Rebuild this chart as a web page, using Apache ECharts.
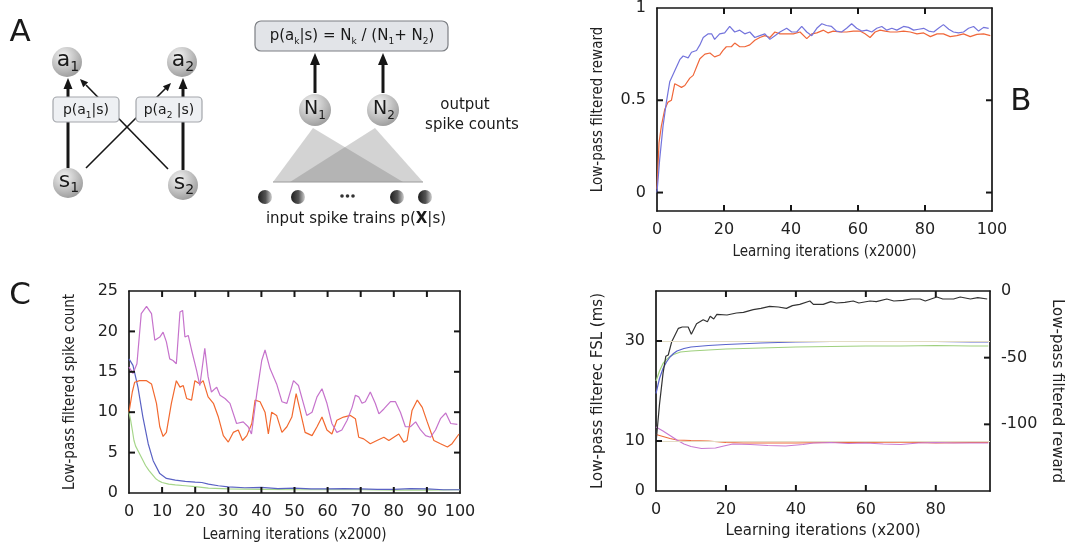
<!DOCTYPE html>
<html>
<head>
<meta charset="utf-8">
<script src="https://cdn.jsdelivr.net/npm/echarts@6/dist/echarts.min.js"></script>
<style>
    html, body { margin: 0; padding: 0; background: #fff; }
    #main { width: 1068px; height: 552px; }
</style>
</head>
<body>
<div id="main"></div>
<script>
    // Panel B: low-pass filtered reward vs learning iterations (x2000)
    var rewardBlue = [
        [0, 0], [0.8, 0.18], [1.8, 0.36], [2.8, 0.49], [3.8, 0.6], [5.3, 0.66], [6.8, 0.72], [7.8, 0.74],
        [9.3, 0.73], [10.3, 0.76], [11.8, 0.77], [12.8, 0.8], [13.8, 0.84], [15.3, 0.86], [16.3, 0.86],
        [17.2, 0.83], [18.7, 0.86], [20.2, 0.865], [21.7, 0.9], [23.2, 0.87], [24.7, 0.88], [26.2, 0.86],
        [27.7, 0.87], [29.2, 0.84], [30.7, 0.85], [32.2, 0.86], [33.7, 0.83], [35.2, 0.85], [36.7, 0.87],
        [38.7, 0.89], [40.2, 0.87], [41.7, 0.87], [43.2, 0.9], [44.7, 0.87], [46.2, 0.85], [47.7, 0.89],
        [49.2, 0.915], [50.6, 0.905], [52.1, 0.9], [53.6, 0.875], [55.1, 0.87], [56.6, 0.89], [58.1, 0.915],
        [59.6, 0.89], [61.1, 0.875], [62.6, 0.88], [64.1, 0.87], [65.6, 0.89], [67.1, 0.9], [68.6, 0.88],
        [70.1, 0.89], [71.6, 0.88], [73.6, 0.9], [75.1, 0.895], [76.6, 0.88], [78.1, 0.885], [79.6, 0.89],
        [81.1, 0.875], [82.6, 0.87], [84, 0.89], [85.5, 0.91], [87.1, 0.885], [88.5, 0.87], [90, 0.865],
        [91.5, 0.87], [93, 0.89], [94.5, 0.9], [96, 0.875], [97.5, 0.895], [99, 0.89]
    ];
    var rewardOrange = [
        [0, 0.02], [0.6, 0.27], [1.3, 0.36], [2.3, 0.45], [3.3, 0.49], [4.3, 0.5], [5.3, 0.59], [6.3, 0.58],
        [7.3, 0.57], [8.3, 0.58], [9.8, 0.62], [10.8, 0.635], [11.8, 0.68], [12.8, 0.725], [14.3, 0.75],
        [15.8, 0.756], [17.2, 0.735], [18.7, 0.745], [19.7, 0.77], [20.7, 0.79], [22.2, 0.79], [23.2, 0.81],
        [24.7, 0.79], [26.2, 0.79], [27.7, 0.8], [29.2, 0.825], [30.7, 0.84], [32.2, 0.85], [33.7, 0.84],
        [35.2, 0.87], [36.7, 0.86], [38.7, 0.86], [40.7, 0.86], [42.7, 0.87], [44.7, 0.834], [46.2, 0.86],
        [47.7, 0.865], [49.7, 0.88], [51.1, 0.865], [52.6, 0.875], [54.6, 0.87], [56.6, 0.87], [58.6, 0.875],
        [60.6, 0.875], [62.1, 0.86], [63.6, 0.84], [65.1, 0.87], [66.6, 0.88], [68.1, 0.875], [69.6, 0.87],
        [71.6, 0.87], [73.6, 0.875], [75.6, 0.87], [77.6, 0.86], [79.6, 0.865], [81.6, 0.845], [83.6, 0.86],
        [85.5, 0.86], [87.5, 0.845], [89.5, 0.85], [91.5, 0.86], [93.5, 0.845], [95.5, 0.857], [97.5, 0.86],
        [99.5, 0.85]
    ];

    // Panel C left: low-pass filtered spike count vs learning iterations (x2000)
    var spikePurple = [
        [0, 15.6], [1.2, 14.8], [2.4, 16], [3.7, 22.2], [5.3, 23.1], [6.8, 22.2], [7.8, 18.9], [9.3, 19.3],
        [10.3, 19.9], [11.3, 18.7], [12.3, 16.6], [13.3, 16.4], [14.3, 16], [15.4, 22.4], [16.2, 22.6],
        [16.9, 19.3], [17.9, 19.5], [18.9, 17.7], [20.4, 15.2], [21.4, 13.3], [22.9, 17.9], [23.9, 14.4],
        [24.9, 12.5], [26.5, 13.1], [27.5, 12.1], [29, 11.7], [30.5, 11.1], [32.5, 8.6], [34.5, 8.8],
        [36, 8.2], [37, 7.3], [38.6, 12.3], [40.1, 16.4], [41.1, 17.7], [42.6, 15.4], [44.6, 13.5],
        [46.2, 11.3], [47.7, 11.1], [49.7, 13.9], [51.2, 13.3], [52.7, 11.1], [53.7, 9.6], [55.3, 10],
        [56.8, 11.9], [58.3, 12.9], [59.8, 11.1], [61.3, 8.6], [62.8, 7.5], [64.3, 7.8], [65.9, 9],
        [67.4, 10.6], [68.4, 12.1], [69.4, 11.9], [70.4, 11.1], [71.4, 11.3], [72.9, 12.5], [74.4, 11.1],
        [75.5, 9.8], [77, 10.4], [79, 11.3], [80.5, 11.3], [82, 10], [83.5, 8.2], [85, 8.2], [86.6, 8.8],
        [88.1, 7.8], [89.6, 7.1], [91.1, 6.9], [92.6, 7.8], [94.1, 9.2], [95.7, 9.9], [97.2, 8.6], [99.2, 8.5]
    ];
    var spikeOrange = [
        [0, 10], [1, 12.5], [1.7, 13.7], [3.2, 13.9], [5.3, 13.9], [6.8, 13.5], [8.3, 11.1], [9.3, 8.2],
        [10.3, 7], [11.3, 7.5], [12.8, 11.1], [14.3, 13.9], [15.4, 13.1], [16.4, 13.3], [17.4, 11.7],
        [18.9, 11.5], [19.9, 13.9], [21.4, 13.5], [22.4, 13.9], [23.9, 11.9], [25.5, 11.1], [27, 9.4],
        [28.5, 7.1], [30, 6.3], [31.5, 7.5], [33, 7.8], [34.3, 6.5], [35.6, 7.1], [37.1, 8.6], [38.1, 11.5],
        [39.6, 11.3], [41.1, 10], [42.1, 7.3], [43.1, 10], [44.6, 9.6], [46.2, 7.5], [47.7, 8.2], [49.2, 9.4],
        [50.5, 12.3], [51.7, 10.2], [53.2, 7.5], [55.3, 7.1], [56.8, 8.2], [58.3, 9.4], [59.8, 7.8],
        [61.3, 7.3], [62.8, 9], [64.8, 9.4], [66.9, 9.6], [68.4, 9.2], [69.4, 6.9], [70.9, 6.7], [72.9, 6.1],
        [74.9, 6.5], [77, 6.9], [78.5, 6.5], [80, 6.9], [81.5, 7.3], [83, 6.3], [84, 6.5], [85.5, 10.2],
        [87.1, 11.5], [88.6, 10.6], [90.1, 8.8], [92.1, 6.5], [94.1, 6.1], [96.2, 5.7], [97.6, 6.1], [99.7, 7.3]
    ];
    var spikeBlue = [
        [0, 16.6], [1.2, 15.8], [2.7, 13.1], [4.2, 9.4], [5.8, 6.1], [7.3, 4], [9.3, 2.4], [11.3, 1.8],
        [14, 1.6], [17, 1.45], [20, 1.35], [22, 1.3], [24, 1.1], [27, 0.9], [30, 0.75], [35, 0.65], [40, 0.7],
        [45, 0.55], [50, 0.6], [55, 0.5], [60, 0.5], [65, 0.55], [70, 0.5], [75, 0.45], [80, 0.45],
        [85, 0.55], [90, 0.5], [95, 0.4], [100, 0.4]
    ];
    var spikeGreen = [
        [0, 10], [0.5, 9], [1, 7.8], [1.5, 6.5], [2, 5.8], [3, 5], [4, 4.2], [5, 3.4], [6, 2.8], [7, 2.3],
        [8, 1.8], [9, 1.5], [10, 1.3], [12, 1.1], [14, 1], [17, 0.9], [20, 0.8], [24, 0.6], [30, 0.5],
        [40, 0.45], [50, 0.4], [60, 0.4], [70, 0.4], [80, 0.35], [90, 0.35], [100, 0.4]
    ];

    // Panel C right: FSL (ms, left axis) and reward (right axis) vs learning iterations (x200)
    var fslBlue = [
        [0, 19.5], [1, 22.5], [2, 24.5], [3, 25.8], [4, 26.8], [5, 27.5], [6, 28], [8, 28.5], [10, 28.8],
        [15, 29.1], [20, 29.3], [30, 29.6], [40, 29.8], [50, 29.9], [60, 29.9], [70, 29.9], [80, 29.9],
        [90, 29.8], [95, 29.8]
    ];
    var fslGreen = [
        [0, 22], [1, 24], [2, 25.5], [3, 26.3], [4, 26.9], [5, 27.3], [7, 27.8], [10, 28], [15, 28.2],
        [20, 28.4], [30, 28.6], [40, 28.8], [50, 28.9], [60, 29], [70, 29], [80, 29.1], [90, 29], [95, 29]
    ];
    var fslOrange = [
        [0, 11.3], [2, 10.9], [4, 10.5], [6, 10.2], [10, 10.1], [15, 10], [20, 9.7], [25, 9.6], [30, 9.6],
        [40, 9.6], [50, 9.7], [60, 9.7], [70, 9.8], [80, 9.6], [90, 9.7], [95, 9.7]
    ];
    var fslPink = [
        [0, 12.8], [2, 12], [4, 11.1], [6, 10.2], [8, 9.4], [10, 8.9], [13, 8.5], [17, 8.6], [20, 9.1],
        [22, 9.4], [27, 9.3], [32, 9.1], [37, 9], [42, 9.3], [45, 9.6], [50, 9.7], [55, 9.5], [60, 9.6],
        [65, 9.4], [70, 9.3], [75, 9.6], [80, 9.7], [85, 9.6], [90, 9.6], [95, 9.6]
    ];
    var fslReward = [
        [0, -114], [1, -85], [2, -62], [2.8, -49], [3.5, -48], [4.5, -38], [6.4, -28], [7.5, -27], [9.2, -27],
        [10.1, -32.5], [11.6, -24.5], [13.5, -21.5], [14.7, -23], [15.5, -19], [16.5, -21], [17.4, -17.5],
        [20.3, -18], [23, -16.5], [25, -16], [27.8, -14], [30, -13], [32.5, -11.5], [35, -12], [37.3, -13],
        [39, -11], [41.1, -10], [44, -7.5], [45, -10], [47.8, -10], [50, -8], [51.6, -9], [54, -8.5],
        [56.4, -7.5], [58, -9], [61.2, -7.5], [63, -8], [66, -6], [68, -7.5], [70.7, -7], [73, -6],
        [75.5, -6], [77, -7.5], [80.3, -4.5], [82, -6], [85.1, -6], [87, -4.5], [89.9, -6], [92, -5], [94.7, -6]
    ];
    var fslGuides = [10, 30];

    // tick label values
    var labelsBx = [0, 20, 40, 60, 80, 100];
    var labelsBy = [0, 0.5, 1];
    var labelsCx = [0, 10, 20, 30, 40, 50, 60, 70, 80, 90, 100];
    var labelsCy = [0, 5, 10, 15, 20, 25];
    var labelsDx = [0, 20, 40, 60, 80];
    var labelsDy = [0, 10, 30];
    var labelsDr = [0, -50, -100];

    // inward tick marks on the plot frames
    var ticksBx = [20, 40, 60, 80];
    var ticksBy = [0, 0.5];
    var ticksCx = [10, 20, 30, 40, 50, 60, 70, 80, 90];
    var ticksCy = [5, 10, 15, 20];
    var ticksDx = [20, 40, 60, 80];
    var ticksDy = [10, 30];
    var ticksDr = [-50, -100];

    var chart = echarts.init(document.getElementById('main'));

    var ink = '#161616';
    var labelFont = 'DejaVu Sans';
    var nameFont = "'DejaVu Sans Condensed', 'Liberation Sans', sans-serif";

    function axis(grid, pos, min, max, labels, extra) {
        var a = {
            type: 'value',
            gridIndex: grid,
            position: pos,
            min: min,
            max: max,
            axisLine: {show: true, onZero: false, lineStyle: {color: ink, width: 1.7}},
            axisTick: {show: false},
            axisLabel: labels ? {
                show: true, customValues: labels, color: '#222', fontFamily: labelFont, fontSize: 16, margin: 11
            } : {show: false},
            splitLine: {show: false}
        };
        for (var k in extra) {
            a[k] = extra[k];
        }
        return a;
    }

    function nameStyle(size, fam) {
        return {fontFamily: fam || nameFont, fontSize: size, color: '#222'};
    }

    function line(data, color, xi, yi, extra) {
        var s = {
            type: 'line',
            xAxisIndex: xi,
            yAxisIndex: yi,
            data: data,
            symbol: 'none',
            lineStyle: {color: color, width: 1.2},
            itemStyle: {color: color},
            animation: false,
            silent: true
        };
        for (var k in extra) {
            s[k] = extra[k];
        }
        return s;
    }

    // inward frame ticks, placed through the axes' scales (custom series)
    function tickSeries(xi, yi, values, vertical, edge, dir) {
        return {
            type: 'custom',
            coordinateSystem: 'cartesian2d',
            xAxisIndex: xi,
            yAxisIndex: yi,
            data: values.map(function (v) { return vertical ? [v, edge] : [edge, v]; }),
            silent: true,
            animation: false,
            clip: false,
            z: 5,
            renderItem: function (params, api) {
                var p = api.coord([api.value(0), api.value(1)]);
                var shape = vertical
                    ? {x1: p[0], y1: p[1], x2: p[0], y2: p[1] + dir * 6}
                    : {x1: p[0], y1: p[1], x2: p[0] + dir * 6, y2: p[1]};
                return {type: 'line', shape: shape, style: {stroke: ink, lineWidth: 2}};
            }
        };
    }

    // ---------- panel A diagram ----------
    function sphere(cx, cy, r) {
        return {
            type: 'circle', z: 5,
            shape: {cx: cx, cy: cy, r: r},
            style: {
                fill: new echarts.graphic.RadialGradient(0.38, 0.3, 0.75, [
                    {offset: 0, color: '#f4f4f4'}, {offset: 1, color: '#9a9a9a'}
                ])
            }
        };
    }
    function dot(cx, cy, r) {
        return {
            type: 'circle', z: 5,
            shape: {cx: cx, cy: cy, r: r},
            style: {
                fill: new echarts.graphic.LinearGradient(0, 0, 1, 0, [
                    {offset: 0, color: '#1e1e1e'}, {offset: 0.55, color: '#555'}, {offset: 1, color: '#d0d0d0'}
                ])
            }
        };
    }
    function seg(x1, y1, x2, y2, w) {
        return {type: 'line', z: 2, shape: {x1: x1, y1: y1, x2: x2, y2: y2}, style: {stroke: ink, lineWidth: w}};
    }
    function head(x1, y1, x2, y2, len, wid) {
        var dx = x2 - x1, dy = y2 - y1, d = Math.sqrt(dx * dx + dy * dy);
        var ux = dx / d, uy = dy / d;
        var bx = x2 - ux * len, by = y2 - uy * len;
        return {
            type: 'polygon', z: 2,
            shape: {points: [[x2, y2], [bx - uy * wid / 2, by + ux * wid / 2], [bx + uy * wid / 2, by - ux * wid / 2]]},
            style: {fill: ink}
        };
    }
    function box(x, y, w, h, r, fill, stroke) {
        return {
            type: 'rect', z: 4,
            shape: {x: x, y: y, width: w, height: h, r: r},
            style: {fill: fill, stroke: stroke, lineWidth: 1.2}
        };
    }
    function label(x, y, text, size, extra) {
        var st = {
            text: text, x: 0, y: 0, fill: '#1a1a1a', fontFamily: 'DejaVu Sans', fontSize: size,
            align: 'center', verticalAlign: 'middle',
            rich: {
                m: {fontFamily: 'DejaVu Sans', fontSize: size, lineHeight: size + 6, fill: '#1a1a1a'},
                b: {fontFamily: 'DejaVu Sans', fontSize: size, fontWeight: 'bold', lineHeight: size + 6, fill: '#1a1a1a'},
                s: {fontFamily: 'DejaVu Sans', fontSize: Math.round(size * 0.62), lineHeight: Math.round(size * 0.62) + 2,
                    verticalAlign: 'bottom', fill: '#1a1a1a'}
            }
        };
        for (var k in extra) {
            st[k] = extra[k];
        }
        return {type: 'text', z: 6, x: x, y: y, style: st};
    }

    var diagram = [
        // left network
        seg(68, 168, 68, 86, 3), head(68, 100, 68, 78, 11, 9),
        seg(183, 170, 183, 86, 3), head(183, 100, 183, 78, 11, 9),
        seg(86, 168, 166, 88, 1.6), head(150, 104, 171, 83, 8, 7),
        seg(168, 169, 86, 85, 1.6), head(100, 99, 80, 79, 8, 7),
        box(53, 97, 66, 25, 4, '#eef0f3', '#a3a6ab'),
        box(136, 97, 66, 25, 4, '#eef0f3', '#a3a6ab'),
        label(86, 110, '{m|p(a}{s|1}{m||s)}', 14),
        label(169, 110, '{m|p(a}{s|2}{m| |s)}', 14),
        sphere(67, 62, 15), sphere(182, 62, 15), sphere(68, 183, 15), sphere(183, 185, 15),
        label(68, 60, '{m|a}{s|1}', 22),
        label(183, 60, '{m|a}{s|2}', 22),
        label(69, 181, '{m|s}{s|1}', 22),
        label(184, 183, '{m|s}{s|2}', 22),
        // right network
        box(255, 21, 193, 30, 6, '#e2e4e8', '#7c7f84'),
        label(352, 36, '{m|p(a}{s|k}{m||s) = N}{s|k}{m| / (N}{s|1}{m|+ N}{s|2}{m|)}', 15),
        seg(315, 93, 315, 64, 3), head(315, 75, 315, 53, 12, 10),
        seg(383, 93, 383, 64, 3), head(383, 75, 383, 53, 12, 10),
        {type: 'polygon', z: 1, shape: {points: [[313, 128], [273, 182], [403, 182]]}, style: {fill: 'rgba(110,110,110,0.3)'}},
        {type: 'polygon', z: 1, shape: {points: [[375, 128], [290, 182], [423, 182]]}, style: {fill: 'rgba(110,110,110,0.3)'}},
        {type: 'line', z: 1, shape: {x1: 273, y1: 182, x2: 423, y2: 182}, style: {stroke: '#9a9a9a', lineWidth: 1}},
        sphere(315, 110, 16), sphere(383, 110, 16),
        label(315, 109, '{m|N}{s|1}', 19),
        label(384, 109, '{m|N}{s|2}', 19),
        label(465, 105, 'output', 15),
        label(472, 125, 'spike counts', 15),
        dot(265, 197, 7), dot(298, 197, 7), dot(397, 197, 7), dot(425, 197, 7),
        {type: 'circle', z: 5, shape: {cx: 342, cy: 196, r: 1.8}, style: {fill: '#333'}},
        {type: 'circle', z: 5, shape: {cx: 347.5, cy: 196, r: 1.8}, style: {fill: '#333'}},
        {type: 'circle', z: 5, shape: {cx: 353, cy: 196, r: 1.8}, style: {fill: '#333'}},
        label(356, 219, '{m|input spike trains p(}{b|X}{m||s)}', 15),
        // panel letters
        label(20, 33, 'A', 31, {rich: {}}),
        label(1021, 102, 'B', 31, {rich: {}}),
        label(20, 296, 'C', 31, {rich: {}})
    ];

    var option = {
        backgroundColor: '#fff',
        animation: false,
        grid: [
            {left: 657, top: 8, right: 76, bottom: 341},
            {left: 129, top: 291, right: 608, bottom: 59},
            {left: 656, top: 291, right: 78, bottom: 61}
        ],
        xAxis: [
            axis(0, 'bottom', 0, 100, labelsBx, {
                name: 'Learning iterations (x2000)', nameLocation: 'middle', nameGap: 34, nameTextStyle: nameStyle(15)
            }),
            axis(0, 'top', 0, 100, null),
            axis(1, 'bottom', 0, 100, labelsCx, {
                name: 'Learning iterations (x2000)', nameLocation: 'middle', nameGap: 35, nameTextStyle: nameStyle(15)
            }),
            axis(1, 'top', 0, 100, null),
            axis(2, 'bottom', 0, 95.5, labelsDx, {
                name: 'Learning iterations (x200)', nameLocation: 'middle', nameGap: 33,
                nameTextStyle: nameStyle(15, 'DejaVu Sans')
            }),
            axis(2, 'top', 0, 95.5, null)
        ],
        yAxis: [
            axis(0, 'left', -0.1, 1, labelsBy, {
                name: 'Low-pass filtered reward', nameLocation: 'middle', nameGap: 51, nameRotate: 90,
                nameTextStyle: nameStyle(15)
            }),
            axis(0, 'right', -0.1, 1, null),
            axis(1, 'left', 0, 25, labelsCy, {
                name: 'Low-pass filtered spike count', nameLocation: 'middle', nameGap: 51, nameRotate: 90,
                nameTextStyle: nameStyle(15)
            }),
            axis(1, 'right', 0, 25, null),
            axis(2, 'left', 0, 40, labelsDy, {
                name: 'Low-pass filterec FSL (ms)', nameLocation: 'middle', nameGap: 50, nameRotate: 90,
                nameTextStyle: nameStyle(15, 'DejaVu Sans')
            }),
            axis(2, 'right', -150, 0, labelsDr, {
                name: 'Low-pass filtered reward', nameLocation: 'middle', nameGap: 59, nameRotate: -90,
                nameTextStyle: nameStyle(15, 'DejaVu Sans')
            })
        ],
        series: [
            line(rewardOrange, '#f0673a', 0, 0),
            line(rewardBlue, '#7474dc', 0, 0),
            line(spikeGreen, '#a6d68a', 2, 2),
            line(spikeBlue, '#5a62c4', 2, 2),
            line(spikeOrange, '#f2692f', 2, 2),
            line(spikePurple, '#c673cc', 2, 2),
            line(fslGreen, '#9fd07e', 4, 4, {
                markLine: {
                    silent: true, symbol: 'none', label: {show: false}, animation: false,
                    lineStyle: {color: '#e3dcc4', width: 1, type: 'solid'},
                    data: fslGuides.map(function (v) { return {yAxis: v}; })
                }
            }),
            line(fslBlue, '#5a64cc', 4, 4),
            line(fslOrange, '#ee6b3a', 4, 4),
            line(fslPink, '#c97ad2', 4, 4),
            line(fslReward, '#333333', 4, 5),
            // frame ticks
            tickSeries(0, 0, ticksBx, true, -0.1, -1),
            tickSeries(0, 0, ticksBx, true, 1, 1),
            tickSeries(0, 0, ticksBy, false, 0, 1),
            tickSeries(0, 0, ticksBy, false, 100, -1),
            tickSeries(2, 2, ticksCx, true, 0, -1),
            tickSeries(2, 2, ticksCx, true, 25, 1),
            tickSeries(2, 2, ticksCy, false, 0, 1),
            tickSeries(2, 2, ticksCy, false, 100, -1),
            tickSeries(4, 4, ticksDx, true, 0, -1),
            tickSeries(4, 4, ticksDx, true, 40, 1),
            tickSeries(4, 4, ticksDy, false, 0, 1),
            tickSeries(4, 5, ticksDr, false, 95.5, -1)
        ],
        graphic: diagram
    };

    chart.setOption(option);
</script>
</body>
</html>
